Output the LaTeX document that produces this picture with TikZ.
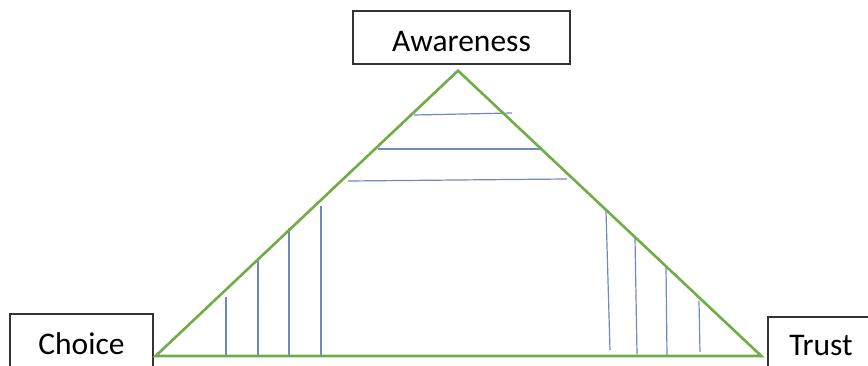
\documentclass[tikz,border=0pt]{standalone}
\usepackage{fontspec}
\setmainfont{Carlito}
\usetikzlibrary{positioning}

\definecolor{triGreen}{HTML}{70AD47}
\definecolor{hatchBlue}{HTML}{6F8AC0}

\begin{document}
\begin{tikzpicture}[
    x=1pt, y=-1pt,
    font=\fontsize{31.5}{38}\selectfont,
    label box/.style={draw=black!80, line width=1.3pt, fill=white, inner sep=0pt,
                      text height=22pt, text depth=2pt},
    side/.style={draw=triGreen, line width=2.6pt, line join=miter},
    hatch/.style={draw=hatchBlue, line width=1.2pt},
]

% canvas (868 x 366)
\clip (0,0) rectangle (868,366);

% Corner labels
\node[label box, minimum width=217pt, minimum height=53pt, text height=30pt, text depth=1pt] (awareness) at (461.5,37.5) {Awareness};
\node[label box, minimum width=143pt, minimum height=60pt] (choice) at (81.5,344) {Choice};
\node[label box, minimum width=106pt, minimum height=56pt] (trust) at (821,345) {Trust};

% Triangle corners
\coordinate (top) at ([xshift=-3.5pt, yshift=-6pt]awareness.south);
\coordinate (left) at ([xshift=2pt, yshift=-12pt]choice.east);
\coordinate (right) at ([xshift=-6pt, yshift=-11pt]trust.west);

% Hatching, left side
\foreach \x/\t in {226/297, 258/260, 289/228, 321/206}
    \draw[hatch] (\x,\t) -- (\x,356);

% Hatching, right side
\foreach \xa/\t/\xb/\b in {606/211/610/350, 635/238/637/354, 666/266/667/356, 699/301/700/352}
    \draw[hatch] (\xa,\t) -- (\xb,\b);

% Hatching, top
\foreach \xa/\ya/\xb/\yb in {414/115/512/113, 378/149/540/149, 348/181/567/179}
    \draw[hatch] (\xa,\ya) -- (\xb,\yb);

% Triangle
\draw[side] (left) -- (top) -- (right) -- cycle;

\end{tikzpicture}
\end{document}
